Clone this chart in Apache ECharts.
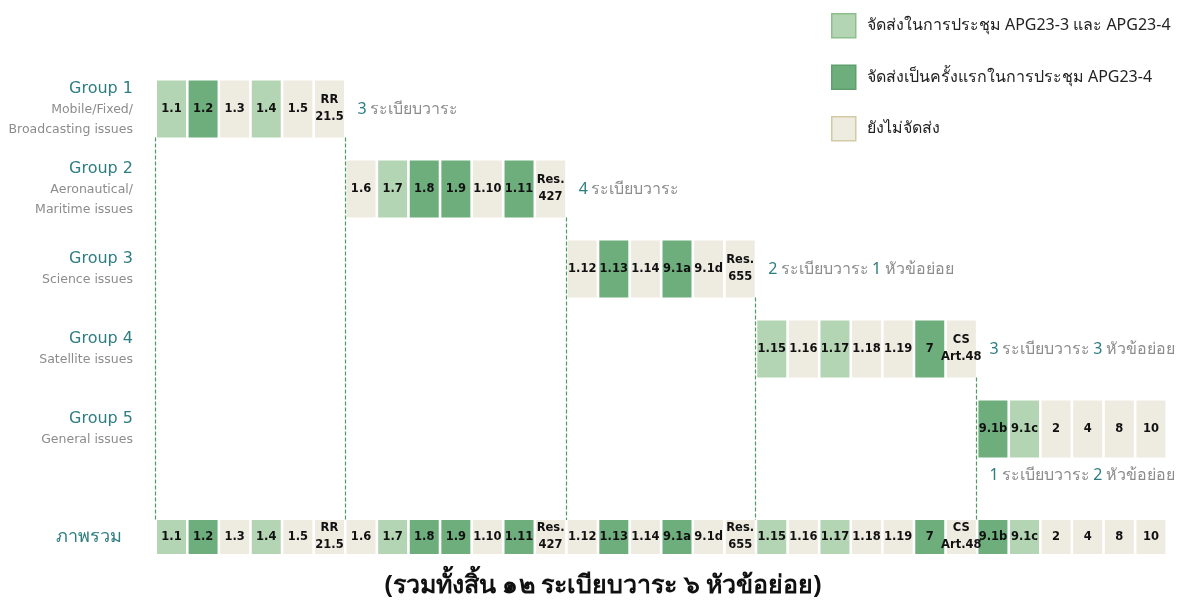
<!DOCTYPE html>
<html>
<head>
<meta charset="utf-8">
<title>APG23 agenda groups</title>
<script src="https://cdn.jsdelivr.net/npm/echarts@6/dist/echarts.min.js"></script>
<style>
html, body { margin: 0; padding: 0; background: #fff; }
#main { width: 1194px; height: 606px; }
</style>
</head>
<body>
<div id="main"></div>
<script>
// กลุ่มงาน
var groupNames = ['Group 1', 'Group 2', 'Group 3', 'Group 4', 'Group 5'];
var groupSubs = [
    'Mobile/Fixed/\nBroadcasting issues',
    'Aeronautical/\nMaritime issues',
    'Science issues',
    'Satellite issues',
    'General issues'
];
// ระเบียบวาระของแต่ละกลุ่ม
var groupItems = [
    ['1.1', '1.2', '1.3', '1.4', '1.5', 'RR\n21.5'],
    ['1.6', '1.7', '1.8', '1.9', '1.10', '1.11', 'Res.\n427'],
    ['1.12', '1.13', '1.14', '9.1a', '9.1d', 'Res.\n655'],
    ['1.15', '1.16', '1.17', '1.18', '1.19', '7', 'CS\nArt.48'],
    ['9.1b', '9.1c', '2', '4', '8', '10']
];
// 0 = จัดส่งใน APG23-3 และ APG23-4, 1 = จัดส่งครั้งแรก APG23-4, 2 = ยังไม่จัดส่ง
var groupStatus = [
    [0, 1, 2, 0, 2, 2],
    [2, 0, 1, 1, 2, 1, 2],
    [2, 1, 2, 1, 2, 2],
    [0, 2, 0, 2, 2, 1, 2],
    [1, 0, 2, 2, 2, 2]
];
var agendaCount = [3, 4, 2, 3, 1];
var subtopicCount = [0, 0, 1, 3, 2];
var statusNames = [
    'จัดส่งในการประชุม APG23-3 และ APG23-4',
    'จัดส่งเป็นครั้งแรกในการประชุม APG23-4',
    'ยังไม่จัดส่ง'
];
var overallName = 'ภาพรวม';
var summaryText = '(รวมทั้งสิ้น ๑๒ ระเบียบวาระ ๖ หัวข้อย่อย)';

// layout
var GRID_LEFT = 156, GRID_RIGHT = 27;
var GROUP_TOP = 69, GROUP_BAND = 80, CELL_H = 57;
var OVERALL_TOP = 520, OVERALL_H = 34;
var statusColors = ['#b4d5b3', '#6eae7d', '#eeebe1'];
var statusBorders = ['#8dbf8d', '#5f9f6e', '#d3caa6'];
var teal = '#2e7d80', gray = '#8c8c8c';
var cellFont = 'bold 11.5px "DejaVu Sans", sans-serif';
var noteFont = '"Noto Sans", "DejaVu Sans", sans-serif';
var notePlace = ['right', 'right', 'right', 'right', 'below'];

// เรียงคอลัมน์
var groupStart = [], groupEnd = [];
var groupCells = [[], [], []], overallCells = [[], [], []];
var col = 0;
groupItems.forEach(function (items, g) {
    groupStart.push(col);
    items.forEach(function (label, i) {
        var s = groupStatus[g][i];
        groupCells[s].push({ value: [col, g], label: label });
        overallCells[s].push({ value: [col, 0], label: label });
        col++;
    });
    groupEnd.push(col);
});
var totalCols = col;

function cellRender(fixedH, list) {
    return function (params, api) {
        var item = list[params.dataIndex];
        var c = api.value(0), r = api.value(1);
        var p0 = api.coord([c, r]);
        var p1 = api.coord([c + 1, r]);
        var h = fixedH || api.size([0, 1])[1];
        var w = p1[0] - p0[0] - 2.6;
        return {
            type: 'group',
            children: [{
                type: 'rect',
                shape: { x: p0[0] + 1, y: p0[1] - h / 2, width: w, height: h },
                style: { fill: api.visual('color') }
            }, {
                type: 'text',
                x: p0[0] + 1 + w / 2,
                y: p0[1],
                z2: 10,
                style: {
                    text: item.label,
                    align: 'center',
                    verticalAlign: 'middle',
                    font: cellFont,
                    lineHeight: 17,
                    fill: '#111'
                }
            }]
        };
    };
}

var series = [];
statusNames.forEach(function (name, s) {
    series.push({
        name: name, type: 'custom', xAxisIndex: 0, yAxisIndex: 0,
        itemStyle: { color: statusColors[s] },
        renderItem: cellRender(CELL_H, groupCells[s]),
        data: groupCells[s]
    });
    series.push({
        name: name, type: 'custom', xAxisIndex: 1, yAxisIndex: 1,
        itemStyle: { color: statusColors[s] },
        renderItem: cellRender(OVERALL_H, overallCells[s]),
        data: overallCells[s]
    });
});

// เส้นประแบ่งกลุ่ม
var dashData = [[0, 0]];
for (var g = 0; g < groupItems.length - 1; g++) dashData.push([groupEnd[g], g]);
series.push({
    type: 'custom', xAxisIndex: 0, yAxisIndex: 0, silent: true,
    renderItem: function (params, api) {
        var p = api.coord([api.value(0), api.value(1)]);
        var x = Math.round(p[0]) - 0.5;
        return {
            type: 'line',
            shape: { x1: x, y1: p[1] + CELL_H / 2, x2: x, y2: OVERALL_TOP },
            style: { stroke: '#4f9a62', lineWidth: 1.2, lineDash: [4, 2] }
        };
    },
    data: dashData
});

// จำนวนระเบียบวาระ
var noteData = groupNames.map(function (n, g) { return [groupEnd[g], g, groupStart[g]]; });
series.push({
    type: 'custom', xAxisIndex: 0, yAxisIndex: 0, silent: true,
    renderItem: function (params, api) {
        var g = params.dataIndex;
        var txt = '{n|' + agendaCount[g] + '} {t|ระเบียบวาระ}';
        if (subtopicCount[g]) txt += ' {n|' + subtopicCount[g] + '} {t|หัวข้อย่อย}';
        var x, y;
        if (notePlace[g] === 'below') {
            var ps = api.coord([api.value(2), api.value(1)]);
            x = ps[0] + 12; y = ps[1] + CELL_H / 2 + 18;
        } else {
            var pe = api.coord([api.value(0), api.value(1)]);
            x = pe[0] + 12; y = pe[1];
        }
        return {
            type: 'text', x: x, y: y,
            style: {
                text: txt, align: 'left', verticalAlign: 'middle',
                rich: {
                    n: { fill: teal, fontSize: 16, fontFamily: noteFont },
                    t: { fill: gray, fontSize: 16, fontFamily: noteFont }
                }
            }
        };
    },
    data: noteData
});

var chart = echarts.init(document.getElementById('main'), null, { renderer: 'canvas' });
chart.setOption({
    animation: false,
    legend: {
        orient: 'vertical',
        left: 826, top: 8,
        itemWidth: 24, itemHeight: 24, itemGap: 26,
        icon: 'rect',
        selectedMode: false,
        textStyle: { fontSize: 16, color: '#222', fontFamily: noteFont, padding: [0, 0, 0, 6] },
        data: statusNames.map(function (n, s) {
            return { name: n, itemStyle: { color: statusColors[s], borderColor: statusBorders[s], borderWidth: 1.5 } };
        })
    },
    grid: [{
        left: GRID_LEFT, right: GRID_RIGHT, top: GROUP_TOP,
        height: GROUP_BAND * groupNames.length
    }, {
        left: GRID_LEFT, right: GRID_RIGHT, top: OVERALL_TOP, height: OVERALL_H
    }],
    xAxis: [
        { type: 'value', gridIndex: 0, min: 0, max: totalCols, show: false },
        { type: 'value', gridIndex: 1, min: 0, max: totalCols, show: false }
    ],
    yAxis: [{
        type: 'category', gridIndex: 0, inverse: true, data: groupNames,
        axisLine: { show: false }, axisTick: { show: false }, splitLine: { show: false },
        axisLabel: {
            margin: 23, align: 'right',
            formatter: function (v, i) {
                var subs = groupSubs[i].split('\n').map(function (s) { return '{s|' + s + '}'; });
                return ['{g|' + v + '}'].concat(subs).join('\n');
            },
            rich: {
                g: { color: teal, fontSize: 16, fontFamily: '"DejaVu Sans"', lineHeight: 22, align: 'right' },
                s: { color: gray, fontSize: 12.5, fontFamily: '"DejaVu Sans"', lineHeight: 20, align: 'right' }
            }
        }
    }, {
        type: 'category', gridIndex: 1, data: [overallName],
        axisLine: { show: false }, axisTick: { show: false }, splitLine: { show: false },
        axisLabel: { margin: 34, color: teal, fontSize: 18, fontFamily: noteFont }
    }],
    graphic: [{
        type: 'text', x: 603, y: 586,
        style: {
            text: summaryText, fill: '#111', align: 'center', verticalAlign: 'middle',
            font: 'bold 25px "Noto Sans", "DejaVu Sans", sans-serif'
        }
    }],
    series: series
});
</script>
</body>
</html>
